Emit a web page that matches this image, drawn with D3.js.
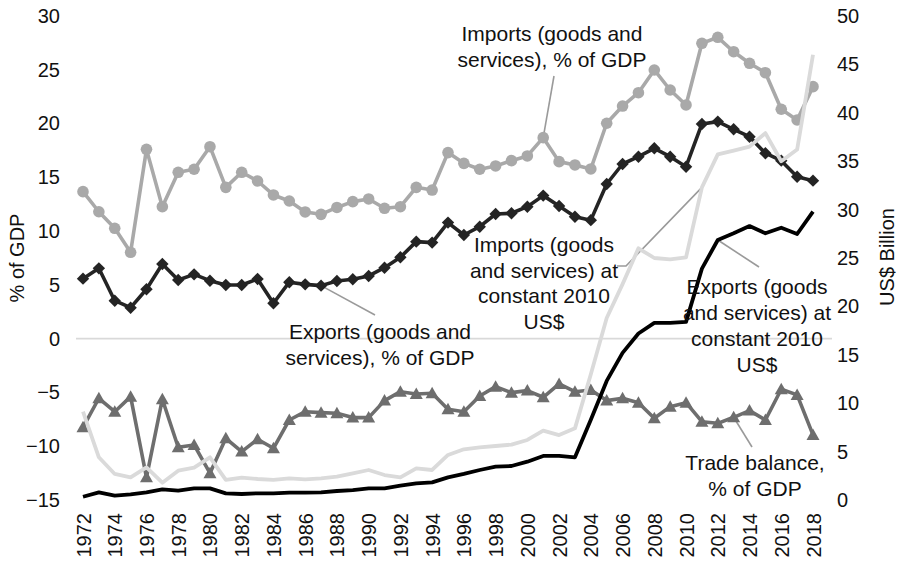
<!DOCTYPE html>
<html>
<head>
<meta charset="utf-8">
<script src="https://cdn.jsdelivr.net/npm/d3@7"></script>
<style>
  html, body { margin: 0; padding: 0; background: #fff; }
  svg { display: block; font-family: "Liberation Sans", Arial, Helvetica, sans-serif; }
</style>
</head>
<body>
<svg id="chart" width="899" height="562"></svg>
<script>
// Years on the category axis
const years = d3.range(1972, 2019);
const yearTicks = years.filter(y => y % 2 === 0);

// Shares of GDP (left axis, %)
const importsPct = [13.67, 11.8, 10.26, 8.03, 17.6, 12.27, 15.47, 15.75, 17.85, 14.07,
  15.47, 14.66, 13.36, 12.8, 11.78, 11.56, 12.2, 12.74, 12.99, 12.12,
  12.27, 14.07, 13.82, 17.3, 16.3, 15.75, 16.06, 16.55, 16.99, 18.69,
  16.46, 16.15, 15.78, 20.03, 21.63, 22.87, 24.98, 23.12, 21.73, 27.46,
  28.02, 26.68, 25.6, 24.73, 21.33, 20.33, 23.43];
const exportsPct = [5.58, 6.54, 3.53, 2.88, 4.59, 6.94, 5.46, 5.98, 5.39, 4.99,
  4.99, 5.55, 3.29, 5.25, 5.05, 4.93, 5.36, 5.52, 5.83, 6.6,
  7.57, 9.02, 8.93, 10.79, 9.64, 10.41, 11.59, 11.66, 12.27, 13.3,
  12.34, 11.34, 11.02, 14.38, 16.24, 16.92, 17.7, 16.92, 15.99, 19.96,
  20.18, 19.47, 18.78, 17.24, 16.55, 15.06, 14.69];
const tradeBalancePct = [-8.24, -5.54, -6.79, -5.39, -12.89, -5.63, -10.1, -9.88, -12.51, -9.26,
  -10.5, -9.35, -10.19, -7.56, -6.79, -6.88, -6.94, -7.34, -7.34, -5.76,
  -4.93, -5.14, -5.08, -6.56, -6.79, -5.33, -4.46, -5.02, -4.83, -5.45,
  -4.21, -4.93, -4.77, -5.76, -5.54, -5.95, -7.4, -6.32, -5.95, -7.72,
  -7.87, -7.31, -6.69, -7.56, -4.7, -5.23, -8.95];

// Constant 2010 US$ (right axis, billion)
const importsUSD = [9.12, 4.41, 2.69, 2.34, 3.38, 1.79, 3.03, 3.34, 4.41, 2.07,
  2.31, 2.17, 2.07, 2.24, 2.14, 2.24, 2.41, 2.76, 3.1, 2.58,
  2.34, 3.27, 3.1, 4.65, 5.24, 5.44, 5.58, 5.72, 6.2, 7.16,
  6.71, 7.4, 13.0, 18.8, 22.3, 26.0, 25.0, 24.86, 25.07, 32.3,
  35.7, 36.1, 36.5, 37.9, 35.0, 36.2, 46.0];
const exportsUSD = [0.34, 0.79, 0.45, 0.59, 0.79, 1.1, 0.96, 1.2, 1.2, 0.69,
  0.62, 0.69, 0.69, 0.76, 0.76, 0.79, 0.93, 1.03, 1.2, 1.2,
  1.48, 1.72, 1.82, 2.34, 2.69, 3.1, 3.44, 3.51, 3.96, 4.55,
  4.55, 4.41, 8.3, 12.3, 15.2, 17.2, 18.3, 18.3, 18.4, 23.9,
  26.86, 27.55, 28.3, 27.55, 28.13, 27.48, 29.8];

// Axis ticks
const leftTicks = [-15, -10, -5, 0, 5, 10, 15, 20, 25, 30];
const rightTicks = [0, 5, 10, 15, 20, 25, 30, 35, 40, 45, 50];

const svg = d3.select("#chart");

const x = d3.scaleLinear().domain([1972, 2018]).range([83, 813]);
const yL = d3.scaleLinear().domain([-15, 30]).range([500, 16]);
const yR = d3.scaleLinear().domain([0, 50]).range([500, 16]);

// zero line of the % axis
svg.append("line")
  .attr("x1", 76).attr("x2", 832)
  .attr("y1", yL(0)).attr("y2", yL(0))
  .attr("stroke", "#d9d9d9").attr("stroke-width", 1.6);

// Axes
const axisLeft = svg.append("g")
  .attr("transform", "translate(75,0)")
  .call(d3.axisLeft(yL).tickValues(leftTicks).tickSize(0).tickPadding(15));
const axisRight = svg.append("g")
  .attr("transform", "translate(829,0)")
  .call(d3.axisRight(yR).tickValues(rightTicks).tickSize(0).tickPadding(8));
const axisBottom = svg.append("g")
  .attr("transform", "translate(0,500)")
  .call(d3.axisBottom(x).tickValues(yearTicks).tickFormat(d3.format("d")).tickSize(0));
axisBottom.selectAll("text")
  .attr("transform", "rotate(-90)")
  .attr("x", -13).attr("y", 0).attr("dy", "0.35em")
  .style("text-anchor", "end");

[axisLeft, axisRight, axisBottom].forEach(g => {
  g.select(".domain").remove();
  g.selectAll("text").attr("font-size", 20).attr("fill", "#111")
    .attr("font-family", "Liberation Sans, Arial, sans-serif");
});

// Axis titles
svg.append("text")
  .attr("transform", `translate(24,258) rotate(-90)`)
  .attr("text-anchor", "middle").attr("font-size", 20).attr("fill", "#111")
  .text("% of GDP");
svg.append("text")
  .attr("transform", `translate(894,257) rotate(-90)`)
  .attr("text-anchor", "middle").attr("font-size", 20).attr("fill", "#111")
  .text("US$ Billion");

// Leader lines from labels to their series
const leader = pts => svg.append("path")
  .attr("d", d3.line()(pts))
  .attr("fill", "none").attr("stroke", "#9a9a9a").attr("stroke-width", 1.6);

const idx = yr => yr - 1972;
leader([[554, 76], [x(2001), yL(importsPct[idx(2001)])]]);
leader([[375, 315], [x(1987), yL(exportsPct[idx(1987)])]]);
leader([[617, 266], [626, 266], [x(2011), yR(importsUSD[idx(2011)])]]);
leader([[759, 267], [x(2012), yR(exportsUSD[idx(2012)])]]);
leader([[752, 447], [x(2013), yL(tradeBalancePct[idx(2013)])]]);

// Series
const lineOf = (vals, yScale) => d3.line()
  .x((d, i) => x(years[i]))
  .y(d => yScale(d))(vals);

function drawSeries(vals, yScale, color, width) {
  svg.append("path")
    .attr("d", lineOf(vals, yScale))
    .attr("fill", "none").attr("stroke", color)
    .attr("stroke-width", width).attr("stroke-linejoin", "round");
}

// Imports % of GDP: circles
drawSeries(importsPct, yL, "#a9a9a9", 3.6);
svg.append("g").selectAll("circle").data(importsPct).join("circle")
  .attr("cx", (d, i) => x(years[i])).attr("cy", d => yL(d))
  .attr("r", 5.8).attr("fill", "#a9a9a9");

// Exports % of GDP: diamonds
drawSeries(exportsPct, yL, "#242424", 3.6);
svg.append("g").selectAll("path").data(exportsPct).join("path")
  .attr("transform", (d, i) => `translate(${x(years[i])},${yL(d)})`)
  .attr("d", "M0,-6.2L6.2,0L0,6.2L-6.2,0Z")
  .attr("fill", "#242424");

// Trade balance % of GDP: triangles
drawSeries(tradeBalancePct, yL, "#6e6e6e", 3.6);
svg.append("g").selectAll("path").data(tradeBalancePct).join("path")
  .attr("transform", (d, i) => `translate(${x(years[i])},${yL(d)})`)
  .attr("d", "M0,-6.5L6.5,5L-6.5,5Z")
  .attr("fill", "#6e6e6e");

// Constant 2010 US$ series
drawSeries(importsUSD, yR, "#dadada", 3.8);
drawSeries(exportsUSD, yR, "#000000", 3.8);

// Series labels
function label(lines, cx, cy, lh) {
  const t = svg.append("text")
    .attr("text-anchor", "middle").attr("font-size", 21).attr("fill", "#111");
  lines.forEach((s, i) => {
    t.append("tspan").attr("x", cx).attr("y", cy + i * lh).attr("dy", "0.35em").text(s);
  });
}
label(["Imports (goods and", "services), % of GDP"], 552, 33.5, 26.5);
label(["Exports (goods and", "services), % of GDP"], 380, 331.5, 26.5);
label(["Imports (goods", "and services) at", "constant 2010", "US$"], 544, 245, 25.5);
label(["Exports (goods", "and services) at", "constant 2010", "US$"], 757, 287, 26);
label(["Trade balance,", "% of GDP"], 755, 462.7, 25.6);
</script>
</body>
</html>
